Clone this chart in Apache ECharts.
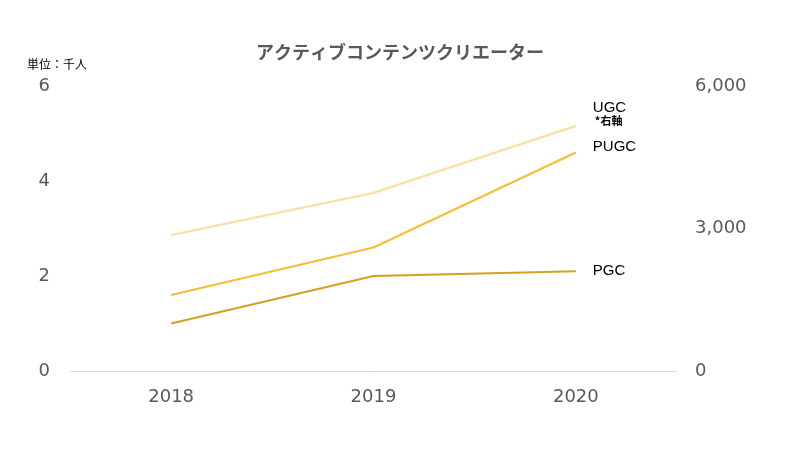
<!DOCTYPE html>
<html><head><meta charset="utf-8">
<script src="https://cdn.jsdelivr.net/npm/echarts@6/dist/echarts.min.js"></script>
<style>html,body{margin:0;padding:0;background:#fff}#c{width:800px;height:453px}</style>
</head><body><div id="c"></div>
<script>
const categories = ['2018', '2019', '2020'];
const pgc = [1.0, 2.0, 2.1];
const pugc = [1.6, 2.6, 4.6];
const ugc = [2860, 3750, 5160];
const leftTicks = [0, 2, 4, 6];
const rightTicks = [0, 3000, 6000];

const chart = echarts.init(document.getElementById('c'), null, {renderer: 'canvas'});
const font = '"Noto Sans CJK JP", "Noto Sans", sans-serif';
const tickFont = 'Verdana, "DejaVu Sans", sans-serif';
const lblFont = '"Liberation Sans", Arial, sans-serif';
chart.setOption({
  animation: false,
  backgroundColor: '#fff',
  title: {
    text: 'アクティブコンテンツクリエーター',
    left: 'center', top: 38,
    textStyle: {fontFamily: font, fontSize: 18, fontWeight: 'bold', color: '#595959'}
  },
  graphic: [{
    type: 'text', left: 27, top: 58,
    style: {text: '単位：千人', font: '12px "Noto Sans CJK JP"', fill: '#000'}
  }],
  grid: {left: 70, right: 123, top: 86, bottom: 82},
  xAxis: {
    type: 'category', data: categories, boundaryGap: true,
    axisLine: {lineStyle: {color: '#d9d9d9', width: 1}},
    axisTick: {show: false},
    axisLabel: {color: '#595959', fontSize: 18, fontFamily: tickFont, margin: 17}
  },
  yAxis: [{
    type: 'value', min: leftTicks[0], max: leftTicks[leftTicks.length - 1], interval: 2,
    axisLine: {show: false}, axisTick: {show: false}, splitLine: {show: false},
    axisLabel: {color: '#595959', fontSize: 18, fontFamily: tickFont, margin: 20, align: 'right'}
  }, {
    type: 'value', min: rightTicks[0], max: rightTicks[rightTicks.length - 1], interval: 3000,
    axisLine: {show: false}, axisTick: {show: false}, splitLine: {show: false},
    axisLabel: {color: '#595959', fontSize: 18, fontFamily: tickFont, margin: 18,
      formatter: v => v.toLocaleString('en-US')}
  }],
  series: [{
    name: 'UGC', type: 'line', yAxisIndex: 1, data: ugc, symbol: 'none',
    lineStyle: {color: '#FADFA6', width: 2.2},
    endLabel: {show: true, formatter: '{a|UGC}\n{b|*右軸}', offset: [9, -12], align: 'left',
      rich: {a: {fontSize: 15, fontFamily: lblFont, color: '#000', lineHeight: 14},
             b: {fontSize: 11, fontWeight: 'bold', fontFamily: font, color: '#000', lineHeight: 12, padding: [0,0,0,2]}}}
  }, {
    name: 'PUGC', type: 'line', yAxisIndex: 0, data: pugc, symbol: 'none',
    lineStyle: {color: '#F6BE35', width: 2.2},
    endLabel: {show: true, formatter: '{a}', offset: [9, -6], color: '#000', fontSize: 15, fontFamily: lblFont}
  }, {
    name: 'PGC', type: 'line', yAxisIndex: 0, data: pgc, symbol: 'none',
    lineStyle: {color: '#D3A021', width: 2.2},
    endLabel: {show: true, formatter: '{a}', offset: [9, 0], color: '#000', fontSize: 15, fontFamily: lblFont}
  }]
});
</script></body></html>
